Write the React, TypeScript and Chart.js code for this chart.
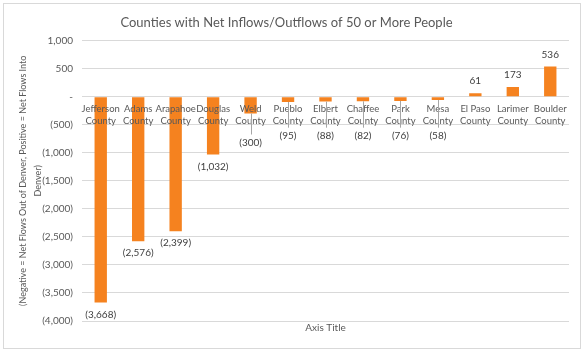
import React, { useEffect, useRef } from "react";
import { Chart, registerables } from "chart.js";

Chart.register(...registerables);

const categories: string[][] = [
  ["Jefferson", "County"],
  ["Adams", "County"],
  ["Arapahoe", "County"],
  ["Douglas", "County"],
  ["Weld", "County"],
  ["Pueblo", "County"],
  ["Elbert", "County"],
  ["Chaffee", "County"],
  ["Park", "County"],
  ["Mesa", "County"],
  ["El Paso", "County"],
  ["Larimer", "County"],
  ["Boulder", "County"],
];
const netFlows: number[] = [-3668, -2576, -2399, -1032, -300, -95, -88, -82, -76, -58, 61, 173, 536];

const chartTitle = "Counties with Net Inflows/Outflows of 50 or More People";
const yTitle = ["(Negative = Net Flows Out of Denver, Positive = Net Flows Into", "Denver)"];
const xTitle = "Axis Title";

const FONT = "Lato, 'Open Sans', sans-serif";
const fmt = (v: number) => {
  const a = Math.abs(v).toLocaleString("en-US");
  if (v < 0) return `(${a})`;
  if (v === 0) return "-";
  return a;
};

const frame = {
  id: "frame",
  beforeDraw(chart: any) {
    const { ctx, width, height } = chart;
    ctx.save();
    ctx.fillStyle = "#ffffff";
    ctx.fillRect(0, 0, width, height);
    ctx.strokeStyle = "#d9d9d9";
    ctx.lineWidth = 1;
    ctx.strokeRect(3.5, 3.5, 577, 345);
    ctx.restore();
  },
  afterDraw(chart: any) {
    const { ctx, chartArea } = chart;
    ctx.save();
    ctx.font = `10px ${FONT}`;
    ctx.fillStyle = "#595959";
    ctx.textAlign = "center";
    ctx.textBaseline = "middle";
    ctx.fillText(xTitle, (chartArea.left + chartArea.right) / 2, chartArea.bottom + 7);
    ctx.restore();
  },
};

const dataLabels = {
  id: "dataLabels",
  afterDraw(chart: any) {
    const { ctx } = chart;
    const meta = chart.getDatasetMeta(0);
    const zeroY = chart.scales.y.getPixelForValue(0);
    ctx.save();
    ctx.font = `10px ${FONT}`;
    ctx.fillStyle = "#404040";
    ctx.textAlign = "center";
    ctx.textBaseline = "middle";
    meta.data.forEach((bar: any, i: number) => {
      const v = netFlows[i];
      const txt = fmt(v);
      if (v >= 0) {
        ctx.fillText(txt, bar.x, bar.y - 12);
      } else {
        let y = bar.y + 12;
        if (y < zeroY + 39) {
          y = Math.max(bar.y + 29, zeroY + 39);
          ctx.strokeStyle = "#a6a6a6";
          ctx.lineWidth = 1;
          ctx.beginPath();
          ctx.moveTo(Math.round(bar.x) + 0.5, bar.y);
          ctx.lineTo(Math.round(bar.x) + 0.5, y - 8);
          ctx.stroke();
        }
        ctx.fillText(txt, bar.x, y);
      }
    });
    ctx.restore();
  },
};

export default function App() {
  const ref = useRef<HTMLCanvasElement>(null);
  useEffect(() => {
    document.body.style.margin = "0";
    const chart = new Chart(ref.current!, {
      type: "bar",
      data: {
        labels: categories,
        datasets: [
          {
            data: netFlows,
            backgroundColor: "#F5821F",
            barPercentage: 0.33,
            categoryPercentage: 1,
          },
        ],
      },
      options: {
        animation: false,
        responsive: false,
        layout: { padding: { left: 4, right: 17, top: 2, bottom: 33 } },
        plugins: {
          legend: { display: false },
          tooltip: { enabled: false },
          title: {
            display: true,
            text: chartTitle,
            color: "#595959",
            font: { family: FONT, size: 13, weight: "normal" },
            padding: { top: 13, bottom: 10 },
          },
        },
        scales: {
          x: {
            position: { y: 0 } as any,
            grid: { display: false, drawTicks: false },
            border: { display: false },
            ticks: {
              z: 1,
              color: "#595959",
              font: { family: FONT, size: 9.5, lineHeight: 1.25 },
              padding: 6,
              maxRotation: 0,
              autoSkip: false,
            },
          },
          y: {
            min: -4000,
            max: 1000,
            grid: { color: "#d9d9d9", drawTicks: false },
            border: { display: false },
            afterFit: (scale: any) => {
              scale.width = 78;
            },
            ticks: {
              stepSize: 500,
              color: "#595959",
              font: { family: FONT, size: 10 },
              padding: 9,
              callback: (v: any) => fmt(Number(v)),
            },
            title: {
              display: true,
              text: yTitle,
              color: "#595959",
              font: { family: FONT, size: 9, lineHeight: 1.6 },
              padding: { top: 12, bottom: 4 },
            },
          },
        },
      },
      plugins: [frame, dataLabels],
    });
    return () => chart.destroy();
  }, []);
  return (
    <div style={{ width: 586, height: 354 }}>
      <canvas ref={ref} width={586} height={354} />
    </div>
  );
}
